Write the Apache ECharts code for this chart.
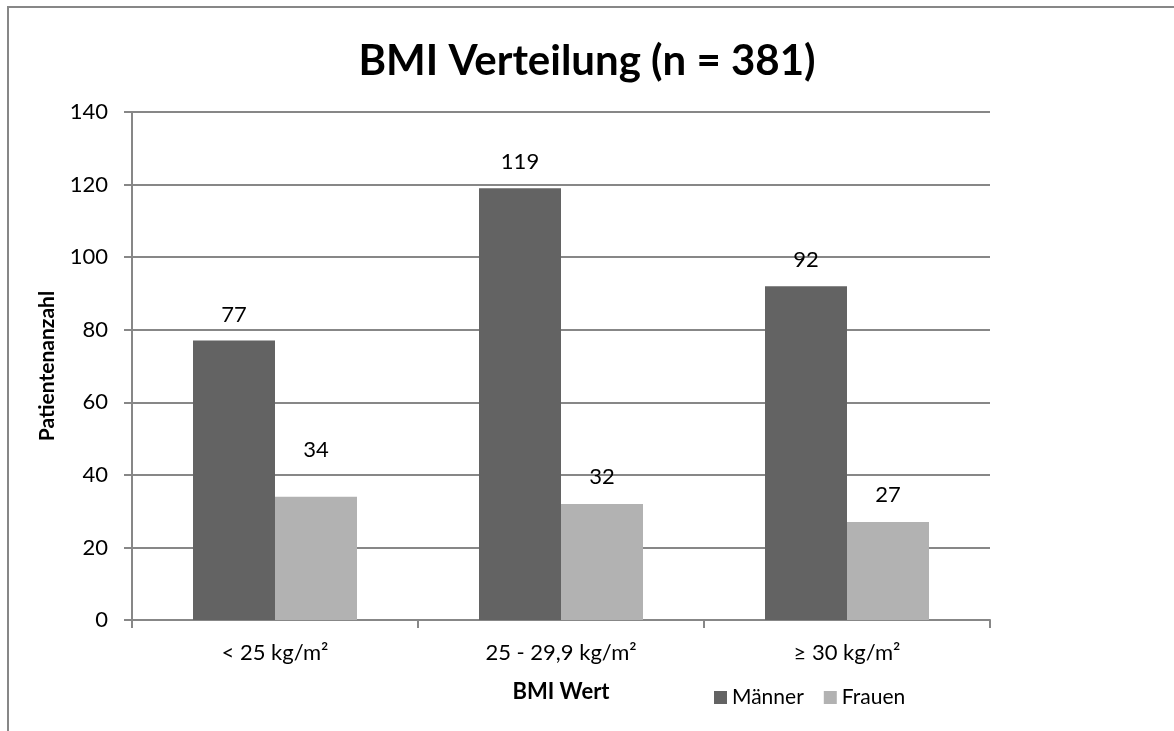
<!DOCTYPE html>
<html>
<head>
<meta charset="utf-8">
<script src="https://cdn.jsdelivr.net/npm/echarts@6/dist/echarts.min.js"></script>
<style>
html,body{margin:0;padding:0;background:#fff;}
#c{width:1174px;height:731px;}
</style>
</head>
<body>
<div id="c"></div>
<script>
const categories = ['< 25 kg/m²', '25 - 29,9 kg/m²', '≥ 30 kg/m²'];
const maenner = [77, 119, 92];
const frauen = [34, 32, 27];
const seriesNames = ['Männer', 'Frauen'];

// label placement (style only)
const frauenLabelDistance = [36, 16, 16];

const FONT = 'Lato, "Open Sans", sans-serif';
const chart = echarts.init(document.getElementById('c'), null, {renderer: 'canvas'});
chart.setOption({
  animation: false,
  backgroundColor: '#fff',
  textStyle: {fontFamily: FONT},
  graphic: [{
    type: 'rect', silent: true,
    shape: {x: 8, y: 7, width: 1400, height: 1000},
    style: {fill: 'none', stroke: '#878787', lineWidth: 2}
  }],
  title: {
    text: 'BMI Verteilung (n = 381)',
    left: 'center', top: 35,
    textStyle: {fontFamily: FONT, fontSize: 42, fontWeight: 'bold', color: '#000'}
  },
  legend: {
    data: seriesNames,
    left: 709, top: 682,
    itemWidth: 13, itemHeight: 13, itemGap: 20,
    icon: 'rect',
    textStyle: {fontFamily: FONT, fontSize: 21, color: '#000'}
  },
  grid: {left: 132, top: 112, right: 184, bottom: 111, containLabel: false},
  xAxis: {
    type: 'category',
    data: categories,
    name: 'BMI Wert',
    nameLocation: 'middle',
    nameGap: 61,
    nameTextStyle: {fontFamily: FONT, fontSize: 22, fontWeight: 'bold', color: '#000'},
    axisLine: {lineStyle: {color: '#878787', width: 2}},
    axisTick: {show: true, length: 8, lineStyle: {color: '#878787', width: 2}},
    axisLabel: {fontFamily: FONT, fontSize: 22, color: '#000', margin: 22}
  },
  yAxis: {
    type: 'value',
    min: 0, max: 140, interval: 20,
    name: 'Patientenanzahl',
    nameLocation: 'middle',
    nameGap: 74,
    nameTextStyle: {fontFamily: FONT, fontSize: 21, fontWeight: 'bold', color: '#000'},
    axisLine: {show: true, lineStyle: {color: '#878787', width: 2}},
    axisTick: {show: true, length: 8, lineStyle: {color: '#878787', width: 2}},
    axisLabel: {fontFamily: FONT, fontSize: 22, color: '#000', margin: 24},
    splitLine: {show: true, lineStyle: {color: '#878787', width: 2}}
  },
  series: [
    {
      name: seriesNames[0], type: 'bar', data: maenner,
      barWidth: 82, barGap: '0%',
      itemStyle: {color: '#636363'},
      label: {show: true, position: 'top', distance: 15, fontFamily: FONT, fontSize: 22, color: '#000'}
    },
    {
      name: seriesNames[1], type: 'bar',
      data: frauen.map((v, i) => ({value: v, label: {distance: frauenLabelDistance[i]}})),
      barWidth: 82, barGap: '0%',
      itemStyle: {color: '#b2b2b2'},
      label: {show: true, position: 'top', distance: 16, fontFamily: FONT, fontSize: 22, color: '#000'}
    }
  ]
});
</script>
</body>
</html>
